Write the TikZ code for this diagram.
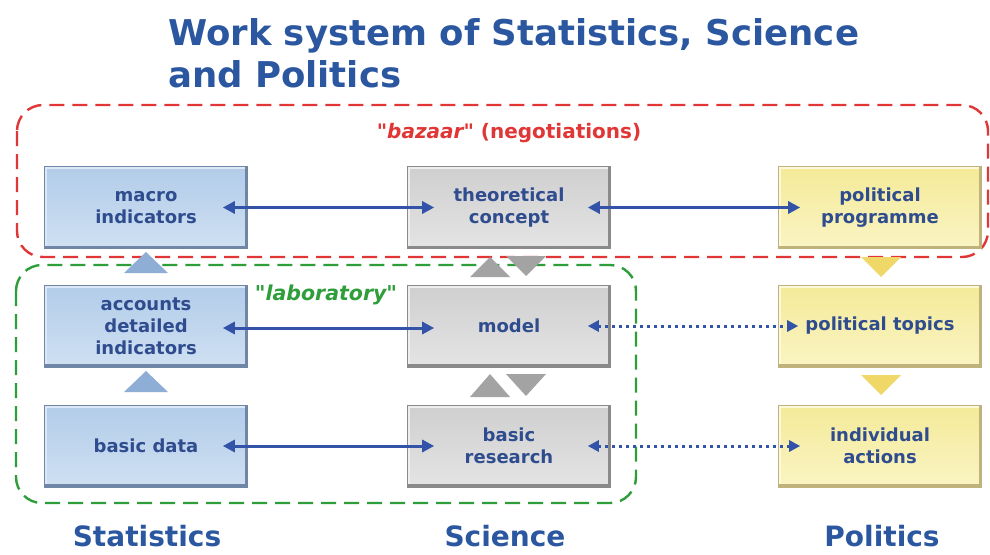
\documentclass[tikz,border=0pt]{standalone}
\usepackage{fontspec}
\setmainfont{DejaVu Sans}[Ligatures=TeXOff]
\usetikzlibrary{arrows.meta}
\definecolor{txtblue}{HTML}{2E4C8E}
\definecolor{titleblue}{HTML}{2B57A0}
\definecolor{arrblue}{HTML}{3353A8}
\definecolor{blueA}{HTML}{B2CCE9}
\definecolor{blueB}{HTML}{CFE0F2}
\definecolor{blueD}{HTML}{6F86A6}
\definecolor{blueL}{HTML}{DCE8F6}
\definecolor{grayA}{HTML}{CFCFCF}
\definecolor{grayB}{HTML}{E4E4E4}
\definecolor{grayD}{HTML}{8A8A8A}
\definecolor{grayL}{HTML}{EEEEEE}
\definecolor{yelA}{HTML}{F4EA98}
\definecolor{yelB}{HTML}{FAF4C4}
\definecolor{yelD}{HTML}{BFB27A}
\definecolor{yelL}{HTML}{FCF8DC}
\definecolor{triblue}{HTML}{8EAED6}
\definecolor{trigray}{HTML}{A3A3A3}
\definecolor{triyel}{HTML}{EFD768}
\definecolor{redd}{HTML}{E03636}
\definecolor{greend}{HTML}{2E9E3A}
\newcommand\mybevel[2]{%
  \draw[line width=5pt,#2] (path picture bounding box.south west) -- (path picture bounding box.north west) -- (path picture bounding box.north east);
  \draw[line width=6pt,#1] (path picture bounding box.south west) -- (path picture bounding box.south east) -- (path picture bounding box.north east);}
\tikzset{
  boxbase/.style={minimum width=203pt, minimum height=82pt, inner sep=0pt, align=center,
    font=\bfseries\fontsize{18}{22}\selectfont, text=txtblue, line width=0.6pt},
  bluebox/.style={boxbase, top color=blueA, bottom color=blueB, draw=blueD, path picture={\mybevel{blueD}{blueL}}},
  graybox/.style={boxbase, top color=grayA, bottom color=grayB, draw=grayD, path picture={\mybevel{grayD}{grayL}}},
  yelbox/.style={boxbase, top color=yelA, bottom color=yelB, draw=yelD, path picture={\mybevel{yelD}{yelL}}},
  biarrow/.style={arrblue, line width=3pt, {Triangle[length=12pt,width=12pt]}-{Triangle[length=12pt,width=12pt]}},
  dotarrow/.style={arrblue, line width=3pt, dash pattern=on 3pt off 4pt, {Triangle[length=11pt,width=11pt]}-{Triangle[length=11pt,width=11pt]}},
  regionred/.style={redd, line width=2.4pt, dash pattern=on 15pt off 8pt, rounded corners=26pt},
  regiongreen/.style={greend, line width=2.4pt, dash pattern=on 15pt off 8pt, rounded corners=26pt},
  collabel/.style={font=\bfseries\fontsize{28}{32}\selectfont, text=titleblue, anchor=base, inner sep=0pt},
}
\begin{document}
\begin{tikzpicture}[x=1pt,y=-1pt]
\useasboundingbox (0,0) rectangle (990,554);
\fill[white] (0,0) rectangle (990,554);
% title
\node[anchor=base west, inner sep=0pt, font=\bfseries\fontsize{35.5}{40}\selectfont, text=titleblue] (t1) at (168,45) {Work system of Statistics, Science};
\node[anchor=base west, inner sep=0pt, font=\bfseries\fontsize{35.5}{40}\selectfont, text=titleblue] (t2) at (168,87) {and Politics};
% regions
\draw[regionred] (17,105) rectangle (988,257);
\draw[regiongreen] (16,265) rectangle (636,503);
\node[font=\bfseries\fontsize{20}{24}\selectfont, text=redd] (bz) at (509,133) {\textit{"bazaar"} (negotiations)};
\node[font=\bfseries\itshape\fontsize{20.5}{24}\selectfont, text=greend] (lab) at (326,295) {"laboratory"};
% boxes
\node[bluebox] (mi) at (146,207.5) {macro\\indicators};
\node[graybox] (tc) at (509,207.5) {theoretical\\concept};
\node[yelbox] (pp) at (880,207.5) {political\\programme};
\node[bluebox] (ac) at (146,326) {accounts\\detailed\\indicators};
\node[graybox] (mo) at (509,326) {model};
\node[yelbox] (pt) at (880,326) {political topics};
\node[bluebox] (bd) at (146,446) {basic data};
\node[graybox] (br) at (509,446) {basic\\research};
\node[yelbox] (ia) at (880,446) {individual\\actions};
% arrows
\draw[biarrow] ([xshift=-25pt]mi.east) -- ([xshift=27pt]tc.west);
\draw[biarrow] ([xshift=-23pt]tc.east) -- ([xshift=22pt]pp.west);
\draw[biarrow] ([xshift=-25pt,yshift=-2pt]ac.east) -- ([xshift=27pt,yshift=-2pt]mo.west);
\draw[dotarrow] ([xshift=-23pt]mo.east) -- ([xshift=20pt]pt.west);
\draw[biarrow] ([xshift=-25pt]bd.east) -- ([xshift=27pt]br.west);
\draw[dotarrow] ([xshift=-23pt]br.east) -- ([xshift=22pt]ia.west);
% triangles
\fill[triblue] (124,273) -- (168,273) -- (146,252) -- cycle;
\fill[triblue] (124,392) -- (168,392) -- (146,371) -- cycle;
\fill[trigray] (470,277) -- (510,277) -- (490,257) -- cycle;
\fill[trigray] (506,256) -- (546,256) -- (526,276) -- cycle;
\fill[trigray] (470,397) -- (510,397) -- (490,374) -- cycle;
\fill[trigray] (506,374) -- (546,374) -- (526,396) -- cycle;
\fill[triyel] (861,257) -- (901,257) -- (881,277) -- cycle;
\fill[triyel] (861,375) -- (901,375) -- (881,395) -- cycle;
% column labels
\node[collabel] (cs) at (147,546) {Statistics};
\node[collabel] (cc) at (505,546) {Science};
\node[collabel] (cp) at (882,546) {Politics};
\end{tikzpicture}
\end{document}
